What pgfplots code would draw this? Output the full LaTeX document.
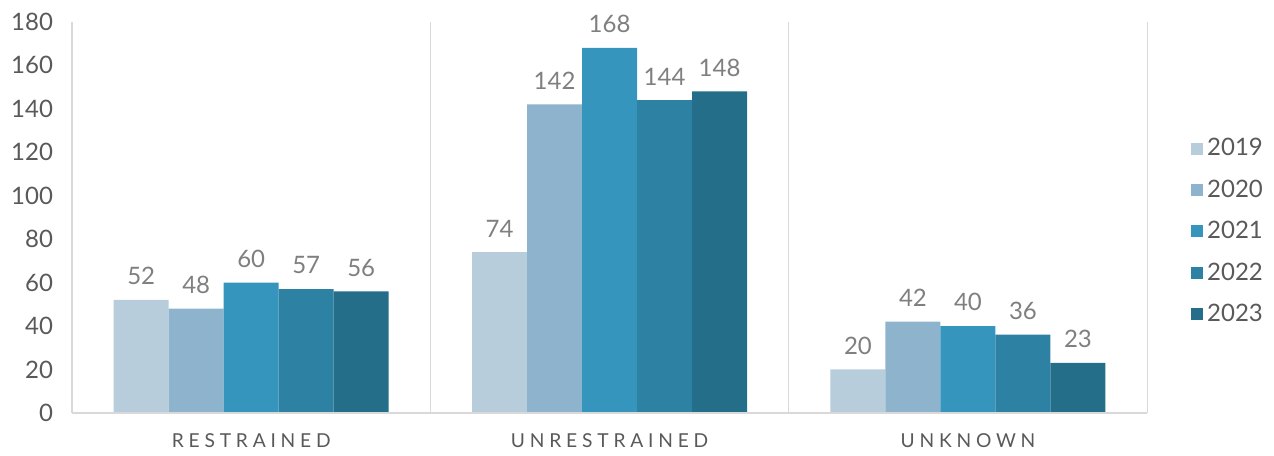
\documentclass[border=0pt]{standalone}
\usepackage{fontspec}
\setmainfont{Lato}
\usepackage{pgfplots}
\pgfplotsset{compat=1.18}
\definecolor{c19}{HTML}{B8CDDB}
\definecolor{c20}{HTML}{8DB4CC}
\definecolor{c21}{HTML}{3595BC}
\definecolor{c22}{HTML}{2D82A4}
\definecolor{c23}{HTML}{246E8A}
\definecolor{tickgray}{HTML}{595959}
\definecolor{labgray}{HTML}{7F7F7F}
\definecolor{gridgray}{HTML}{D9D9D9}
\begin{document}
\begin{tikzpicture}
\begin{axis}[
  width=537.5pt, height=195.5pt, scale only axis,
  xmin=-0.5, xmax=2.5, ymin=0, ymax=180,
  ybar=0pt, bar width=27.5pt,
  xtick={0,1,2},
  xticklabels={RESTRAINED,UNRESTRAINED,UNKNOWN},
  minor xtick={-0.5,0.5,1.5,2.5},
  xminorgrids, minor grid style={gridgray, line width=0.6pt},
  ytick={0,20,...,180},
  axis line style={draw=none},
  major tick length=0pt, minor tick length=0pt,
  /pgf/number format/assume math mode=true,
  yticklabel style={font=\fontsize{12}{14}\selectfont, text=tickgray, xshift=-6pt},
  xticklabel style={font=\fontsize{9.6}{11}\selectfont\addfontfeatures{LetterSpace=25}, text=tickgray, yshift=-7pt},
  nodes near coords,
  nodes near coords style={font=\fontsize{12}{14}\selectfont, text=labgray, /pgf/number format/assume math mode=true, yshift=4pt},
  clip=false,
  legend style={draw=none, fill=none, at={(rel axis cs:1.035,0.464)}, anchor=west,
    font=\fontsize{12}{14}\selectfont, text=tickgray, row sep=6.5pt,
    legend cell align=left},
  legend image code/.code={\fill[#1] (0pt,-3pt) rectangle (6pt,3pt);},
]
\addplot[fill=c19, draw=none] coordinates {(0,52) (1,74) (2,20)};
\addplot[fill=c20, draw=none] coordinates {(0,48) (1,142) (2,42)};
\addplot[fill=c21, draw=none] coordinates {(0,60) (1,168) (2,40)};
\addplot[fill=c22, draw=none] coordinates {(0,57) (1,144) (2,36)};
\addplot[fill=c23, draw=none] coordinates {(0,56) (1,148) (2,23)};
\legend{2019,2020,2021,2022,2023}
\draw[gridgray, line width=0.8pt] (rel axis cs:0,0) -- (rel axis cs:1,0);
\coordinate (bl) at (rel axis cs:-0.067,-0.110);
\coordinate (tr) at (rel axis cs:1.118,1.056);
\end{axis}
\pgfresetboundingbox
\path[use as bounding box] (bl) rectangle (tr);
\end{tikzpicture}
\end{document}
